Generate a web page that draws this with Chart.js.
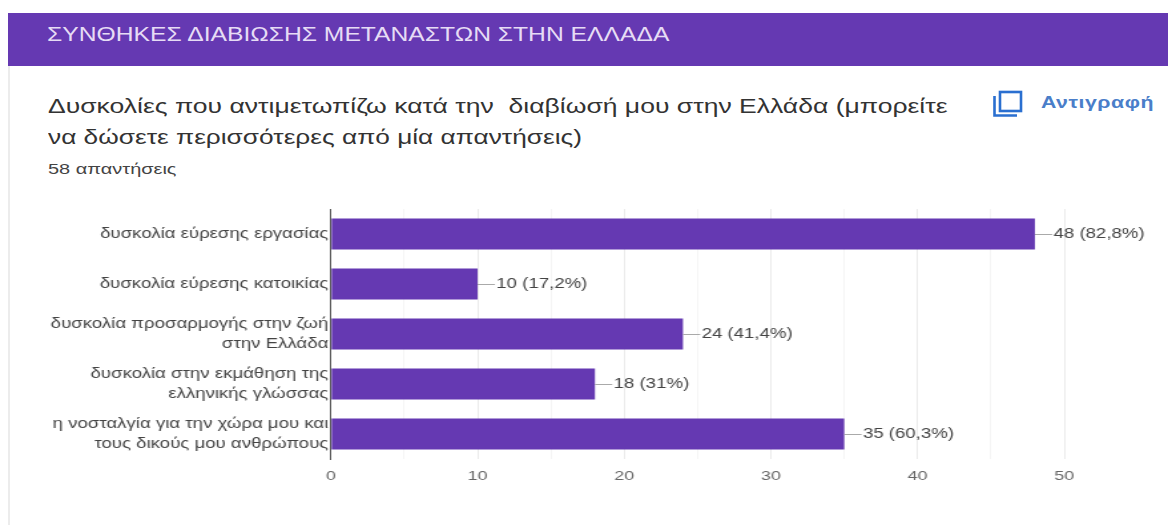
<!DOCTYPE html>
<html lang="el"><head><meta charset="utf-8">
<script src="https://cdn.jsdelivr.net/npm/chart.js@4"></script>
<style>
html,body{margin:0;padding:0;background:#fff;overflow:hidden}
body{width:1168px;height:525px;position:relative;font-family:"Liberation Sans",Arial,sans-serif}
#edge{position:absolute;left:8px;top:13px;width:2px;height:512px;background:#ececec}
#head{position:absolute;left:8px;top:13px;width:1160px;height:53px;background:#6539b2}
.t{position:absolute;white-space:nowrap;transform-origin:left top}
#c{position:absolute;left:0;top:0;transform-origin:left top;transform:scaleX(1.3303)}
</style></head><body>
<div id="edge"></div><div id="head"></div>
<div class="t" style="left:47px;top:23px;font-size:19.5px;transform:scaleX(1.265);color:#e6dcf5">ΣΥΝΘΗΚΕΣ ΔΙΑΒΙΩΣΗΣ ΜΕΤΑΝΑΣΤΩΝ ΣΤΗΝ ΕΛΛΑΔΑ</div>
<div class="t" style="left:48px;top:94px;font-size:20.5px;transform:scaleX(1.294);color:#333">Δυσκολίες που αντιμετωπίζω κατά την&nbsp; διαβίωσή μου στην Ελλάδα (μπορείτε</div>
<div class="t" style="left:48px;top:125px;font-size:20.5px;transform:scaleX(1.281);color:#333">να δώσετε περισσότερες από μία απαντήσεις)</div>
<div class="t" style="left:48px;top:160px;font-size:15px;transform:scaleX(1.33);color:#444">58 απαντήσεις</div>
<svg class="t" style="left:992px;top:89px" width="32" height="30" viewBox="0 0 32 30" fill="none" stroke="#2a6fd0" stroke-width="2.6">
<rect x="8" y="3" width="21" height="19"/><path d="M2.5 7V26.5H25"/></svg>
<div class="t" style="left:1041px;top:94px;font-size:16px;font-weight:bold;letter-spacing:.4px;transform:scaleX(1.33);color:#4a7ec9">Αντιγραφή</div>
<canvas id="c" width="878" height="525"></canvas>
<script>
const categories=[["δυσκολία εύρεσης εργασίας"],["δυσκολία εύρεσης κατοικίας"],["δυσκολία προσαρμογής στην ζωή","στην Ελλάδα"],["δυσκολία στην εκμάθηση της","ελληνικής γλώσσας"],["η νοσταλγία για την χώρα μου και","τους δικούς μου ανθρώπους"]];
const values=[48,10,24,18,35];
const valueLabels=["48 (82,8%)","10 (17,2%)","24 (41,4%)","18 (31%)","35 (60,3%)"];
const xTicks=[0,10,20,30,40,50];
const FONT='"Liberation Sans",Arial,sans-serif';
const leaderLabels={id:'leaderLabels',afterDatasetsDraw(ch){
  const g=ch.ctx,x=ch.scales.x,y=ch.scales.y;
  g.save();g.font='14px '+FONT;g.textBaseline='middle';g.textAlign='left';
  values.forEach((v,i)=>{
    const px=x.getPixelForValue(v),py=y.getPixelForValue(i);
    g.strokeStyle='#aaa';g.lineWidth=1;g.beginPath();g.moveTo(px,py+.5);g.lineTo(px+13,py+.5);g.stroke();
    g.fillStyle='#444';g.fillText(valueLabels[i],px+14,py);
  });
  g.restore();
}};
new Chart(document.getElementById('c'),{
  type:'bar',
  data:{labels:categories,datasets:[{data:values,backgroundColor:'#6539b2',categoryPercentage:1,barPercentage:.62}]},
  plugins:[leaderLabels],
  options:{indexAxis:'y',responsive:false,animation:false,devicePixelRatio:1,
    layout:{padding:{top:209,right:78,left:0,bottom:0}},
    plugins:{legend:{display:false},tooltip:{enabled:false}},
    scales:{
      x:{min:0,max:50,afterFit(s){s.height=66},
        ticks:{stepSize:5,autoSkip:false,maxRotation:0,padding:9,color:'#666',font:{family:FONT,size:13.5},
          callback:v=>xTicks.includes(v)?String(v):''},
        grid:{drawTicks:false,color:c=>c.tick.value%10===0?'#ebebeb':'#f5f5f5'},border:{display:false}},
      y:{afterFit(s){s.width=248.8},
        ticks:{padding:2,autoSkip:false,color:'#444',font:{family:FONT,size:14,lineHeight:1.45}},
        grid:{display:false,tickLength:0,drawTicks:false},border:{color:'#555',width:1}}
    }}
});
</script></body></html>
